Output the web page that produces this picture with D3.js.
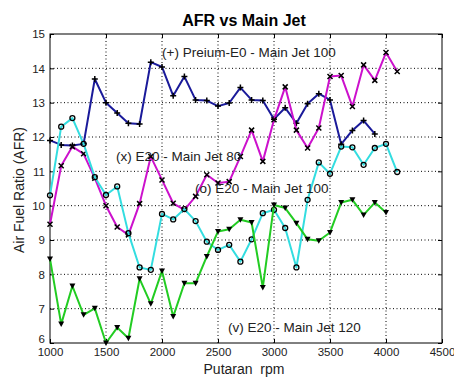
<!DOCTYPE html>
<html>
<head>
<meta charset="utf-8">
<script src="https://cdn.jsdelivr.net/npm/d3@7"></script>
<style>
  body { margin: 0; background: #fff; }
  text { font-family: "Liberation Sans", Arial, sans-serif; }
</style>
</head>
<body>
<div id="chart"></div>
<script>
// rpm values and AFR readings for each main jet
var rpm = [1000,1100,1200,1300,1400,1500,1600,1700,1800,1900,2000,2100,2200,2300,2400,2500,
           2600,2700,2800,2900,3000,3100,3200,3300,3400,3500,3600,3700,3800,3900,4000,4100];
var premiumE0 = [11.9,11.77,11.75,11.8,13.69,13.0,12.7,12.4,12.38,14.18,14.04,13.2,13.76,13.08,13.06,12.9,
                 12.99,13.44,13.08,13.06,12.52,12.85,12.4,12.97,13.26,13.08,11.79,12.19,12.48,12.09];
var e20Jet80 = [9.46,11.16,11.72,11.51,10.8,10.0,9.38,9.15,10.06,11.43,10.75,10.07,9.88,10.27,10.9,10.66,
                10.7,11.43,12.2,11.29,12.5,13.46,12.2,11.68,12.26,13.76,13.79,12.89,14.1,13.65,14.46,13.91];
var e20Jet100 = [10.3,12.3,12.55,11.8,10.83,10.31,10.56,9.2,8.2,8.13,9.76,9.6,9.9,9.55,8.95,8.71,
                 8.86,8.37,9.02,9.78,9.88,9.35,8.2,10.17,11.26,10.93,11.72,11.7,11.19,11.68,11.8,10.98];
var e20Jet120 = [8.45,6.55,7.66,6.82,7.01,6.0,6.45,6.14,7.87,7.14,8.1,6.77,7.74,7.74,8.52,9.25,
                 9.31,9.59,9.51,7.62,10.02,9.93,9.49,9.02,8.98,9.22,10.09,10.17,9.73,10.09,9.8];
var xTicks = [1000,1500,2000,2500,3000,3500,4000,4500];
var yTicks = [6,7,8,9,10,11,12,13,14,15];

var width = 454, height = 377;
var x0 = 50, x1 = 442, y0 = 343, y1 = 34;

var svg = d3.select("#chart").append("svg")
    .attr("width", width)
    .attr("height", height);

var x = d3.scaleLinear().domain([1000,4500]).range([x0,x1]);
var y = d3.scaleLinear().domain([6,15]).range([y0,y1]);

// dotted grid
var grid = svg.append("g");
grid.selectAll("line.gx").data(xTicks.slice(1,-1)).enter().append("line")
    .attr("x1", function(d){ return x(d); }).attr("x2", function(d){ return x(d); })
    .attr("y1", y0).attr("y2", y1)
    .attr("stroke", "#000").attr("stroke-width", 1).attr("stroke-dasharray", "1,2.5");
grid.selectAll("line.gy").data(yTicks.slice(1,-1)).enter().append("line")
    .attr("y1", function(d){ return y(d); }).attr("y2", function(d){ return y(d); })
    .attr("x1", x0).attr("x2", x1)
    .attr("stroke", "#000").attr("stroke-width", 1).attr("stroke-dasharray", "1,2.5");

// axes
var xAxis = d3.axisBottom(x).tickValues(xTicks).tickSize(-4).tickPadding(5).tickFormat(d3.format("d"));
var yAxis = d3.axisLeft(y).tickValues(yTicks).tickSize(-4).tickPadding(5);
svg.append("g").attr("transform", "translate(0," + y0 + ")").call(xAxis)
   .call(function(g){ g.select(".domain").remove(); g.selectAll("text").attr("font-size", 11.5).attr("fill", "#222"); });
svg.append("g").attr("transform", "translate(" + x0 + ",0)").call(yAxis)
   .call(function(g){
     g.select(".domain").remove();
     g.selectAll("text").attr("font-size", 11.5).attr("fill", "#222");
     g.selectAll(".tick").filter(function(d){ return d == 6; }).select("text").attr("y", -4);
   });
svg.append("g").attr("transform", "translate(0," + y1 + ")")
   .call(d3.axisTop(x).tickValues(xTicks).tickSize(-4).tickFormat(""))
   .call(function(g){ g.select(".domain").remove(); });
svg.append("g").attr("transform", "translate(" + x1 + ",0)")
   .call(d3.axisRight(y).tickValues(yTicks).tickSize(-4).tickFormat(""))
   .call(function(g){ g.select(".domain").remove(); });
svg.append("rect").attr("x", x0).attr("y", y1).attr("width", x1 - x0).attr("height", y0 - y1)
   .attr("fill", "none").attr("stroke", "#000").attr("stroke-width", 1);

var series = [
  { vals: premiumE0, color: "#1a1a9a", mark: "plus" },
  { vals: e20Jet80, color: "#cc11cc", mark: "cross" },
  { vals: e20Jet100, color: "#33dde0", mark: "circle" },
  { vals: e20Jet120, color: "#22cc22", mark: "tri" }
];

var line = d3.line()
    .x(function(d){ return x(d[0]); })
    .y(function(d){ return y(d[1]); });

series.forEach(function(s) {
  var pts = s.vals.map(function(v, i){ return [rpm[i], v]; });
  svg.append("path").datum(pts)
     .attr("d", line).attr("fill", "none")
     .attr("stroke", s.color).attr("stroke-width", 2).attr("stroke-linejoin", "round");
  var g = svg.append("g");
  pts.forEach(function(p) {
    var px = x(p[0]), py = y(p[1]);
    if (s.mark == "plus") {
      g.append("path").attr("d", "M" + (px-3) + "," + py + "H" + (px+3) + "M" + px + "," + (py-3) + "V" + (py+3))
       .attr("stroke", "#000").attr("stroke-width", 1.5);
    } else if (s.mark == "cross") {
      g.append("path").attr("d", "M" + (px-2.5) + "," + (py-2.5) + "L" + (px+2.5) + "," + (py+2.5) +
                                "M" + (px-2.5) + "," + (py+2.5) + "L" + (px+2.5) + "," + (py-2.5))
       .attr("stroke", "#000").attr("stroke-width", 1.5);
    } else if (s.mark == "circle") {
      g.append("circle").attr("cx", px).attr("cy", py).attr("r", 2.5)
       .attr("fill", "none").attr("stroke", "#000").attr("stroke-width", 1.3);
    } else {
      g.append("path").attr("d", "M" + (px-3) + "," + (py-2.5) + "L" + (px+3) + "," + (py-2.5) + "L" + px + "," + (py+3) + "Z")
       .attr("fill", "#000");
    }
  });
});

// annotations
var notes = [
  { t: "(+) Preium-E0 - Main Jet 100", x: 162, y: 57 },
  { t: "(x) E20 - Main Jet 80", x: 116, y: 161 },
  { t: "(o) E20 - Main Jet 100", x: 195, y: 193 },
  { t: "(v) E20 - Main Jet 120", x: 228, y: 332 }
];
svg.selectAll("text.note").data(notes).enter().append("text")
   .attr("class", "note")
   .attr("x", function(d){ return d.x; }).attr("y", function(d){ return d.y; })
   .attr("font-size", 13.5).attr("fill", "#222")
   .text(function(d){ return d.t; });

svg.append("text").attr("x", 244).attr("y", 26).attr("text-anchor", "middle")
   .attr("font-size", 16).attr("font-weight", "bold").text("AFR vs Main Jet");
svg.append("text").attr("x", 244).attr("y", 374).attr("text-anchor", "middle")
   .attr("font-size", 14).attr("fill", "#222").attr("xml:space", "preserve").text("Putaran  rpm");
svg.append("text").attr("transform", "translate(24,190) rotate(-90)").attr("text-anchor", "middle")
   .attr("font-size", 14).attr("fill", "#222").text("Air Fuel Ratio (AFR)");
</script>
</body>
</html>
